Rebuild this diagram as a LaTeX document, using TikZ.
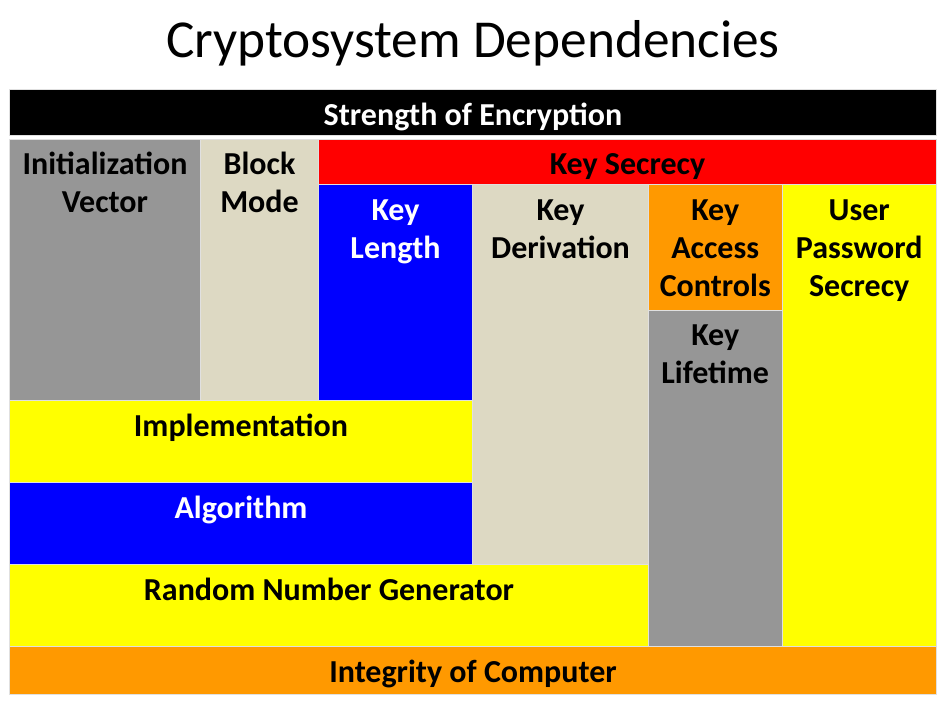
\documentclass[tikz,border=0pt]{standalone}
\usepackage{fontspec}
\setmainfont{Carlito}
\usetikzlibrary{fit}

\definecolor{cellgray}{HTML}{969696}
\definecolor{cellbeige}{HTML}{DDD9C3}
\definecolor{cellorange}{HTML}{FF9900}
\definecolor{cellyellow}{HTML}{FFFF00}
\definecolor{cellblue}{HTML}{0000FF}
\definecolor{cellred}{HTML}{FF0000}

\begin{document}
\begin{tikzpicture}[x=0.75pt,y=-0.75pt,
    cell/.style={draw=white!88!black, line width=0.75pt, inner sep=0pt},
    celltext/.style={anchor=north, align=center, inner sep=0pt, yshift=-7.2pt,
      font=\fontsize{24}{28.5}\selectfont\bfseries}]
  \fill[white] (0,0) rectangle (947,708);
  \useasboundingbox (0,0) rectangle (947,708);

  \node[anchor=base, inner sep=0pt, font=\fontsize{40}{46}\selectfont] (title) at (473,57) {Cryptosystem Dependencies};

  % top and bottom bars
  \node[cell, fill=black, fit={(9.5,89.5) (936.5,135)}] (strength) {};
  \node[celltext, text=white] (strengtht) at (strength.north) {\strut Strength of Encryption};
  \node[cell, fill=cellorange, fit={(9.5,646.5) (936.5,694)}] (integrity) {};
  \node[celltext] (integrityt) at (integrity.north) {\strut Integrity of Computer};

  % left part
  \node[cell, fill=cellgray, fit={(9.5,139) (200.5,400.5)}] (iv) {};
  \node[celltext] (ivt) at (iv.north) {\strut Initialization\\Vector};
  \node[cell, fill=cellbeige, fit={(200.5,139) (318.5,400.5)}] (mode) {};
  \node[celltext] (modet) at (mode.north) {\strut Block\\Mode};
  \node[cell, fill=cellyellow, fit={(9.5,400.5) (472.5,482.5)}] (impl) {};
  \node[celltext] (implt) at (impl.north) {\strut Implementation};
  \node[cell, fill=cellblue, fit={(9.5,482.5) (472.5,564.5)}] (algo) {};
  \node[celltext, text=white] (algot) at (algo.north) {\strut Algorithm};
  \node[cell, fill=cellyellow, fit={(9.5,564.5) (648.5,646.5)}] (rng) {};
  \node[celltext] (rngt) at (rng.north) {\strut Random Number Generator};

  % key secrecy
  \node[cell, fill=cellred, fit={(318.5,139) (936.5,184.5)}] (secrecy) {};
  \node[celltext] (secrecyt) at (secrecy.north) {\strut Key Secrecy};
  \node[cell, fill=cellblue, fit={(318.5,184.5) (472.5,400.5)}] (length) {};
  \node[celltext, text=white] (lengtht) at (length.north) {\strut Key\\Length};
  \node[cell, fill=cellbeige, fit={(472.5,184.5) (648.5,564.5)}] (deriv) {};
  \node[celltext] (derivt) at (deriv.north) {\strut Key\\Derivation};
  \node[cell, fill=cellorange, fit={(648.5,184.5) (782,310)}] (access) {};
  \node[celltext] (accesst) at (access.north) {\strut Key\\Access\\Controls};
  \node[cell, fill=cellgray, fit={(648.5,310) (782,646.5)}] (life) {};
  \node[celltext] (lifet) at (life.north) {\strut Key\\Lifetime};
  \node[cell, fill=cellyellow, fit={(782,184.5) (936.5,646.5)}] (passwd) {};
  \node[celltext] (passwdt) at (passwd.north) {\strut User\\Password\\Secrecy};
\end{tikzpicture}
\end{document}
